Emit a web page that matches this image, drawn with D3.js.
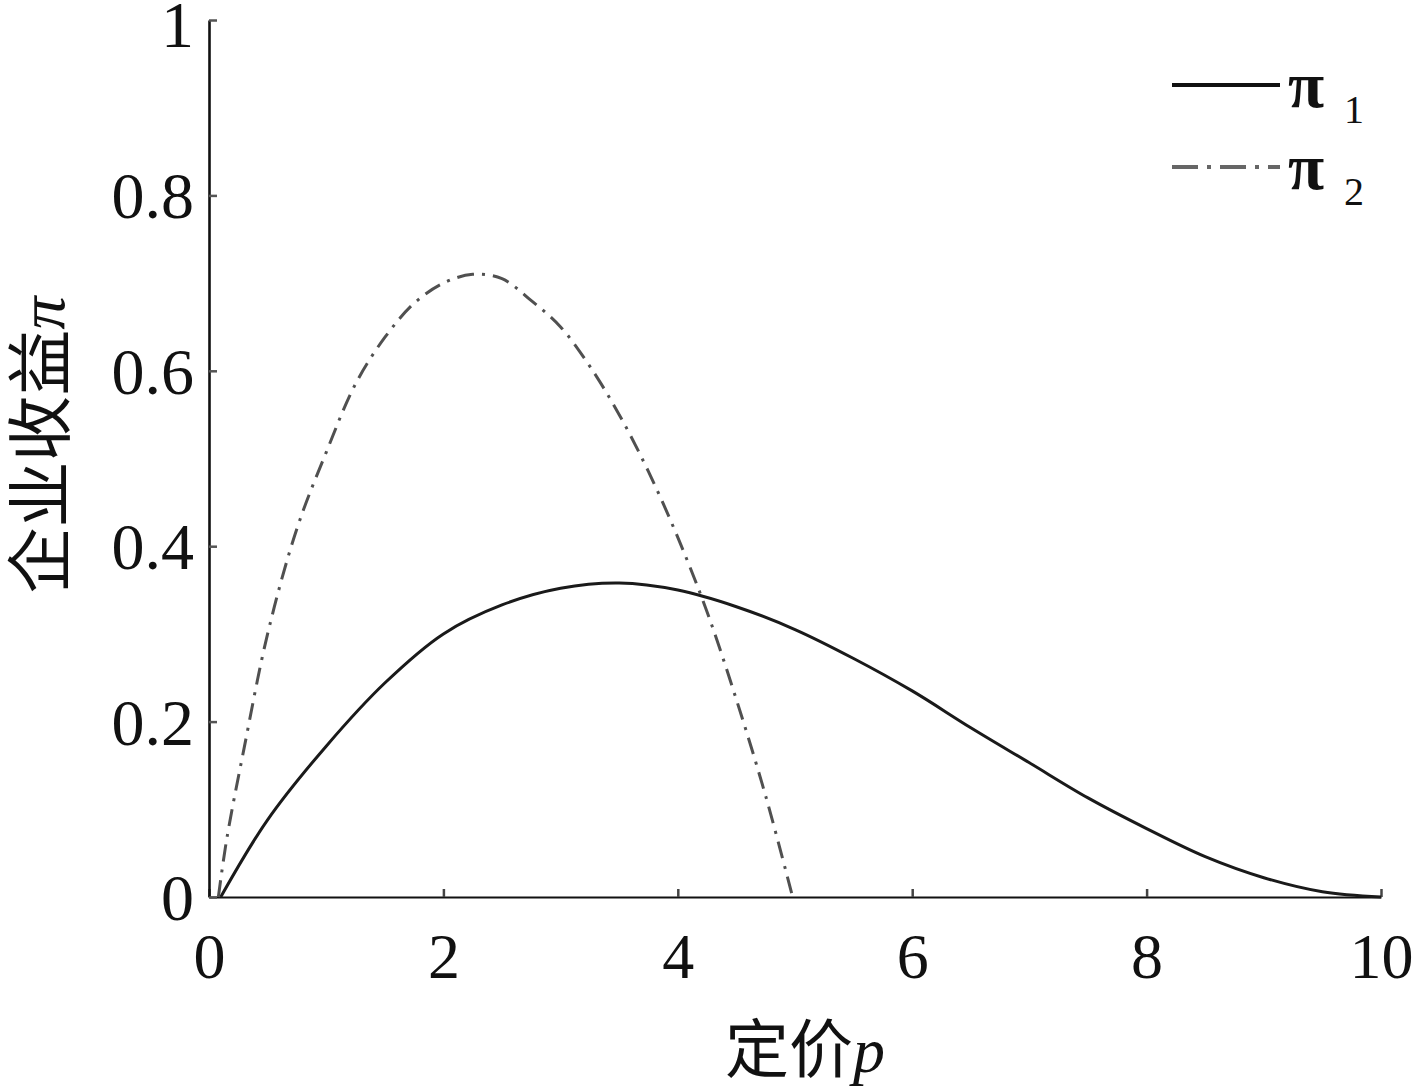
<!DOCTYPE html>
<html>
<head>
<meta charset="utf-8">
<script src="https://cdn.jsdelivr.net/npm/d3@7"></script>
<style>
  html, body { margin: 0; padding: 0; background: #fff; }
  svg { display: block; }
</style>
</head>
<body>
<svg id="chart" width="1413" height="1092"></svg>
<script>
// ---- data ----
const xTicks = [0, 2, 4, 6, 8, 10];
const yTicks = [0, 0.2, 0.4, 0.6, 0.8, 1];
const yTickLabels = ["0", "0.2", "0.4", "0.6", "0.8", "1"];
const xTickLabels = ["0", "2", "4", "6", "8", "10"];

const pi1P = [0.1, 0.5, 1, 1.5, 2, 2.5, 3, 3.5, 4, 4.5, 5, 5.5, 6, 6.5, 7, 7.5, 8, 8.5, 9, 9.5, 10];
const pi1V = [0, 0.088, 0.172, 0.244, 0.3, 0.333, 0.352, 0.358, 0.35, 0.331, 0.305, 0.272, 0.235, 0.193, 0.153, 0.113, 0.078, 0.046, 0.022, 0.006, 0];

const pi2P = [0.08, 0.15, 0.3, 0.5, 0.75, 1.0, 1.25, 1.5, 1.75, 2.0, 2.25, 2.5, 2.75, 3.0, 3.25, 3.5, 3.75, 4.0, 4.25, 4.5, 4.75, 4.98];
const pi2V = [0, 0.065, 0.17, 0.3, 0.42, 0.507, 0.585, 0.638, 0.677, 0.7, 0.71, 0.705, 0.68, 0.65, 0.605, 0.55, 0.485, 0.41, 0.325, 0.225, 0.115, 0];

const seriesNames = ["1", "2"];

// ---- layout ----
const svg = d3.select("#chart");
const x = d3.scaleLinear().domain([0, 10]).range([209, 1381]);
const y = d3.scaleLinear().domain([0, 1]).range([897, 20]);
const serif = "'Liberation Serif', 'DejaVu Serif', serif";

// x axis
const xAxis = d3.axisBottom(x).tickValues(xTicks)
  .tickFormat((d, i) => xTickLabels[i]).tickSizeInner(-8).tickSizeOuter(0).tickPadding(36);
const gx = svg.append("g").attr("transform", `translate(0,${y(0)})`).call(xAxis);
gx.select(".domain").attr("stroke", "#111").attr("stroke-width", 2.2);
gx.selectAll(".tick line").attr("stroke", "#444").attr("stroke-width", 2.5);
gx.selectAll(".tick text").attr("font-family", serif).attr("font-size", 64).attr("fill", "#111")
  .attr("dy", "0.71em");

// y axis
const yAxis = d3.axisLeft(y).tickValues(yTicks)
  .tickFormat((d, i) => yTickLabels[i]).tickSizeInner(-8).tickSizeOuter(0).tickPadding(15);
const gy = svg.append("g").attr("transform", `translate(${x(0)},0)`).call(yAxis);
gy.select(".domain").attr("stroke", "#111").attr("stroke-width", 2.6);
gy.selectAll(".tick line").attr("stroke", "#555").attr("stroke-width", 2.5);
gy.selectAll(".tick text").attr("font-family", serif).attr("font-size", 66).attr("fill", "#111")
  .attr("dy", (d) => d === 1 ? "0.4em" : "0.34em");

// curves
const line = d3.line().x(d => x(d[0])).y(d => y(d[1])).curve(d3.curveCatmullRom.alpha(0.5));
const pi1 = pi1P.map((p, i) => [p, pi1V[i]]);
const pi2 = pi2P.map((p, i) => [p, pi2V[i]]);

svg.append("path").datum(pi1).attr("d", line)
  .attr("fill", "none").attr("stroke", "#1a1a1a").attr("stroke-width", 3);
svg.append("path").datum(pi2).attr("d", line)
  .attr("fill", "none").attr("stroke", "#505050").attr("stroke-width", 3)
  .attr("stroke-dasharray", "17,8,3,8");

// legend
const legend = svg.append("g");
const legY = [85, 167];
const legStyles = [
  { stroke: "#111", dash: null },
  { stroke: "#666", dash: "26,9,4,9" }
];
seriesNames.forEach((s, i) => {
  legend.append("line").attr("x1", 1172).attr("x2", 1280).attr("y1", legY[i]).attr("y2", legY[i])
    .attr("stroke", legStyles[i].stroke).attr("stroke-width", 4)
    .attr("stroke-dasharray", legStyles[i].dash);
  legend.append("text").attr("x", 1288).attr("y", legY[i] + 22)
    .attr("font-family", serif).attr("font-size", 66).attr("font-weight", "bold").attr("fill", "#111")
    .text("π");
  legend.append("text").attr("x", 1344).attr("y", legY[i] + 38)
    .attr("font-family", serif).attr("font-size", 40).attr("fill", "#111")
    .text(s);
});

// axis titles
const xt = svg.append("text").attr("x", 805).attr("y", 1072).attr("text-anchor", "middle")
  .attr("font-size", 64).attr("fill", "#111");
xt.append("tspan").attr("font-family", "'Noto Sans CJK SC', sans-serif").text("定价");
xt.append("tspan").attr("font-family", serif).attr("font-style", "italic").text("p");

const yt = svg.append("text").attr("transform", "translate(64,445) rotate(-90)")
  .attr("text-anchor", "middle").attr("font-size", 66).attr("fill", "#111");
yt.append("tspan").attr("font-family", "'Noto Sans CJK SC', sans-serif").text("企业收益");
yt.append("tspan").attr("font-family", serif).attr("font-style", "italic").text("π");
</script>
</body>
</html>
